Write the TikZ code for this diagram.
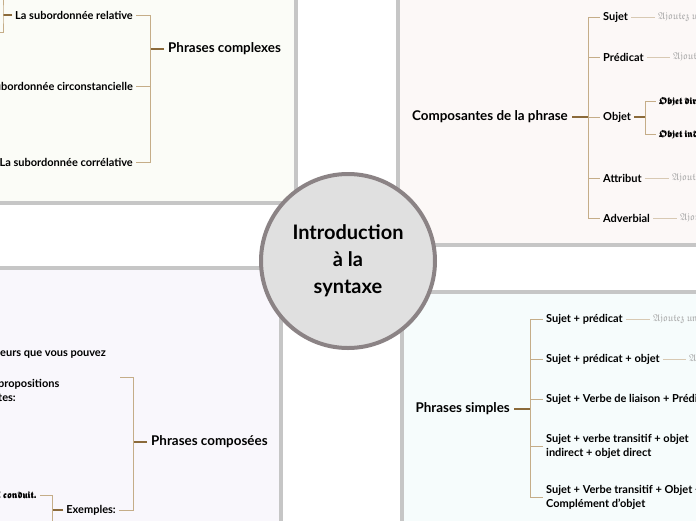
\documentclass[tikz,border=0pt]{standalone}
\usepackage{amsmath,amssymb}
\usepackage{fontspec}
\setmainfont{Lato}
\usepackage{tikz}
\usetikzlibrary{positioning}
\definecolor{tlbg}{RGB}{251,252,247}
\definecolor{trbg}{RGB}{252,248,247}
\definecolor{blbg}{RGB}{249,247,252}
\definecolor{brbg}{RGB}{246,252,252}
\definecolor{rim}{RGB}{198,198,198}
\definecolor{hubrim}{RGB}{139,131,133}
\definecolor{hubfill}{RGB}{224,224,224}
\definecolor{brn}{RGB}{139,106,58}
\definecolor{tan}{RGB}{197,173,136}
\definecolor{pale}{RGB}{216,201,179}
\definecolor{notegray}{RGB}{168,168,168}
\newcommand\ajout{$\mathfrak{Ajoutez\ un}$}
\newcommand\frk[1]{$\pmb{\boldsymbol{\mathfrak{#1}}}$}

\begin{document}
\begin{tikzpicture}[x=1pt,y=-1pt,
  hub/.style={circle,draw=hubrim,line width=4pt,fill=hubfill,minimum size=174pt,inner sep=0pt,
              align=center,font=\bfseries\fontsize{20}{27}\selectfont},
  topic/.style={inner sep=4pt,font=\bfseries\fontsize{13.4}{15}\selectfont},
  sub/.style={inner sep=3pt,align=left,font=\bfseries\fontsize{11}{14}\selectfont},
  note/.style={inner sep=3pt,text=notegray,font=\fontsize{10}{12}\selectfont},
  frak/.style={inner sep=3pt,font=\fontsize{8.5}{10}\selectfont},
  trunk/.style={draw=brn,line width=1.2pt},
  twig/.style={draw=tan,line width=0.9pt},
  hair/.style={draw=pale,line width=0.8pt},
  pane/.style={draw=rim,line width=3.5pt}]

  \useasboundingbox (0,0) rectangle (696,520);
  \clip (0,0) rectangle (696,520);
  \fill[white] (0,0) rectangle (696,520);

  % ---------- panes ----------
  \fill[tlbg] (-10,-10) rectangle (296,203);
  \draw[pane] (296,-10) |- (-10,203);
  \fill[trbg] (398,-10) rectangle (710,245);
  \draw[pane] (398,-10) |- (710,245);
  \fill[blbg] (-10,268) rectangle (281,530);
  \draw[pane] (-10,268) -| (281,530);
  \fill[brbg] (402,292) rectangle (710,530);
  \draw[pane] (710,292) -| (402,530);

  % ---------- phrases complexes ----------
  \node[topic,anchor=west] (cplx) at (164,49) {Phrases complexes};
  \coordinate (jcplx) at (150,49);
  \node[sub,anchor=east] (rel) at (136,15) {La subordonnée relative};
  \node[sub,anchor=east] (circ) at (136,86) {La subordonnée circonstancielle};
  \node[sub,anchor=east] (corr) at (136,162) {La subordonnée corrélative};
  \draw[trunk] (cplx) -- (jcplx);
  \foreach \n in {rel,circ,corr} \draw[twig] (jcplx) |- (\n);
  \coordinate (jrel) at (3,15);
  \coordinate (relup) at (3,-5);
  \coordinate (reldn) at (-5,32);
  \draw[trunk] (rel) -- (jrel);
  \draw[twig] (relup) -- (jrel) |- (reldn);

  % ---------- composantes de la phrase ----------
  \node[topic,anchor=east] (comp) at (572,117) {Composantes de la phrase};
  \coordinate (jcomp) at (588,117);
  \node[sub,anchor=west] (suj) at (600,17) {Sujet};
  \node[sub,anchor=west] (pred) at (600,57) {Prédicat};
  \node[sub,anchor=west] (obj) at (600,117) {Objet};
  \node[sub,anchor=west] (attr) at (600,178) {Attribut};
  \node[sub,anchor=west] (adv) at (600,218) {Adverbial};
  \draw[trunk] (comp) -- (jcomp);
  \foreach \n in {suj,pred,obj,attr,adv} \draw[twig] (jcomp) |- (\n);
  \node[note,anchor=west] (sujn) at (655,17) {\ajout};
  \node[note,anchor=west] (predn) at (670,57) {\ajout};
  \node[note,anchor=west] (attrn) at (669,178) {\ajout};
  \node[note,anchor=west] (advn) at (677,218) {\ajout};
  \foreach \n in {suj,pred,attr,adv} \draw[hair] (\n) -- (\n n);
  \coordinate (jobj) at (645,117);
  \node[frak,anchor=west] (odir) at (656,101) {\frk{Objet\ direct}};
  \node[frak,anchor=west] (oind) at (656,134) {\frk{Objet\ indirect}};
  \draw[trunk] (obj) -- (jobj);
  \draw[twig] (jobj) |- (odir);
  \draw[twig] (jobj) |- (oind);

  % ---------- phrases simples ----------
  \node[topic,anchor=east] (simp) at (514,409) {Phrases simples};
  \coordinate (jsimp) at (530,409);
  \node[sub,anchor=west] (s1) at (543,319) {Sujet + prédicat};
  \node[sub,anchor=west] (s2) at (543,359) {Sujet + prédicat + objet};
  \node[sub,anchor=west] (s3) at (543,399) {Sujet + Verbe de liaison + Prédicat};
  \node[sub,anchor=west] (s4) at (543,446) {Sujet + verbe transitif + objet\\indirect + objet direct};
  \node[sub,anchor=west] (s5) at (543,497) {Sujet + Verbe transitif + Objet +\\Complément d'objet};
  \draw[trunk] (simp) -- (jsimp);
  \foreach \n in {s1,s2,s3,s4,s5} \draw[twig] (jsimp) |- (\n);
  \node[note,anchor=west] (s1n) at (650,319) {\ajout};
  \node[note,anchor=west] (s2n) at (686,359) {\ajout};
  \draw[hair] (s1) -- (s1n);
  \draw[hair] (s2) -- (s2n);

  % ---------- phrases composees ----------
  \node[topic,anchor=west] (cmps) at (147,442) {Phrases composées};
  \coordinate (jcmps) at (133,442);
  \coordinate (cnxend) at (120,377);
  \node[sub,anchor=east] (ex) at (119,510) {Exemples:};
  \draw[trunk] (cmps) -- (jcmps);
  \draw[twig] (jcmps) |- (cnxend);
  \draw[twig] (jcmps) |- (ex);
  \node[sub,anchor=west] (cnxa) at (-3,355) {eurs que vous pouvez};
  \node[sub,anchor=north west] (cnxb) at (-5,376) {propositions\\tes:};
  \coordinate (jex) at (52,510);
  \coordinate (exdn) at (52,530);
  \node[frak,anchor=east] (ex1) at (40,495) {\frk{l\ conduit.}};
  \draw[trunk] (ex) -- (jex);
  \draw[twig] (jex) |- (ex1);
  \draw[twig] (jex) -- (exdn);

  % ---------- centre ----------
  \node[hub] (hub) at (348,261) {Introduction\\à la\\syntaxe};
\end{tikzpicture}
\end{document}
